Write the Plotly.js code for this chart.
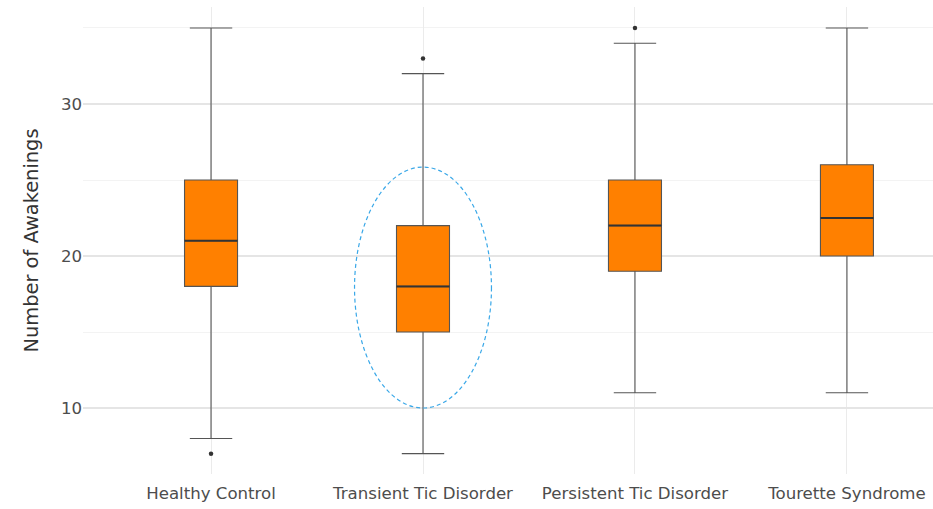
<!DOCTYPE html>
<html>
<head>
<meta charset="utf-8">
<script src="https://cdn.plot.ly/plotly-3.0.1.min.js"></script>
<style>html,body{margin:0;padding:0;background:#fff;}#chart{width:933px;height:509px;}</style>
</head>
<body>
<div id="chart"></div>
<script>
// Data
const categories = ["Healthy Control", "Transient Tic Disorder", "Persistent Tic Disorder", "Tourette Syndrome"];
const lowerWhisker = [8, 7, 11, 11];
const q1Values = [18, 15, 19, 20];
const medianValues = [21, 18, 22, 22.5];
const q3Values = [25, 22, 25, 26];
const upperWhisker = [35, 32, 34, 35];
const outlierGroup = [0, 1, 2];
const outlierValues = [7, 33, 35];
// highlighted group (dashed ellipse)
const highlightGroup = 1;
const highlightRange = [10, 25.85];

const idx = categories.map((c, i) => i);
const boxWidth = 0.25;

const traces = [
  {
    type: 'box',
    x: idx,
    q1: q1Values,
    median: medianValues,
    q3: q3Values,
    lowerfence: lowerWhisker,
    upperfence: upperWhisker,
    width: boxWidth,
    whiskerwidth: 0.8,
    boxpoints: false,
    fillcolor: '#ff8000',
    line: {color: '#555555', width: 1.1},
    hoverinfo: 'skip',
    showlegend: false
  },
  {
    type: 'scatter',
    mode: 'markers',
    x: outlierGroup,
    y: outlierValues,
    marker: {color: '#333333', size: 4.5},
    hoverinfo: 'skip',
    showlegend: false
  }
];

const shapes = idx.map(i => ({
  type: 'line', xref: 'x', yref: 'y',
  x0: i - boxWidth / 2, x1: i + boxWidth / 2,
  y0: medianValues[i], y1: medianValues[i],
  line: {color: '#333333', width: 2}
}));
shapes.push({
  type: 'circle', xref: 'x', yref: 'y', layer: 'above',
  x0: highlightGroup - 0.323, x1: highlightGroup + 0.323,
  y0: highlightRange[0], y1: highlightRange[1],
  line: {color: '#3aa8e8', width: 1.2, dash: '4px,3px'},
  fillcolor: 'rgba(0,0,0,0)'
});

const layout = {
  width: 933,
  height: 509,
  margin: {l: 83, r: 0, t: 7, b: 35},
  paper_bgcolor: '#ffffff',
  plot_bgcolor: '#ffffff',
  font: {family: 'DejaVu Sans', color: '#4d4d4d'},
  xaxis: {
    type: 'linear',
    range: [-0.604, 3.406],
    tickvals: idx,
    ticktext: categories,
    showgrid: true,
    gridcolor: '#ebebeb',
    gridwidth: 1,
    zeroline: false,
    showline: false,
    ticks: '',
    ticklabelstandoff: 7,
    tickfont: {size: 16.6, color: '#4d4d4d'},
    fixedrange: true
  },
  yaxis: {
    range: [5.66, 36.38],
    tick0: 0,
    dtick: 10,
    showgrid: true,
    gridcolor: '#e5e5e5',
    gridwidth: 1.5,
    minor: {dtick: 5, tick0: 0, showgrid: true, gridcolor: '#f3f3f3', gridwidth: 1},
    zeroline: false,
    showline: false,
    ticks: '',
    tickfont: {size: 16.6, color: '#4d4d4d'},
    title: {text: 'Number of Awakenings', font: {size: 19.4, color: '#333333'}, standoff: 17},
    fixedrange: true
  },
  shapes: shapes
};

Plotly.newPlot('chart', traces, layout, {displayModeBar: false, staticPlot: true});
</script>
</body>
</html>
